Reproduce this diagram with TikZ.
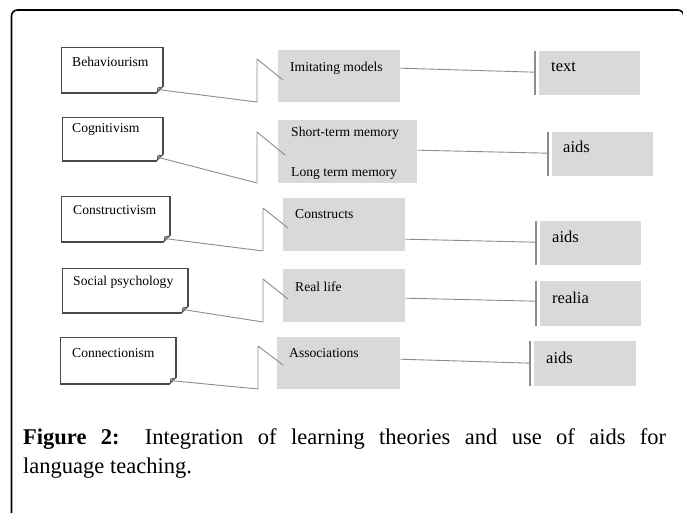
\documentclass[tikz,border=0pt]{standalone}
\usepackage{fontspec}
\setmainfont{Liberation Serif}
\usetikzlibrary{positioning}
\definecolor{boxgray}{HTML}{D9D9D9}
\definecolor{linegray}{HTML}{8C8C8C}
\definecolor{edgegray}{HTML}{4A4A4A}
\tikzset{
  theory/.style={draw=edgegray,line width=0.8pt,fill=white,inner sep=0pt,anchor=north west},
  topic/.style={fill=boxgray,inner sep=0pt,anchor=north west},
  aid/.style={fill=boxgray,inner sep=0pt,anchor=north west},
  lbl/.style={inner sep=0pt,anchor=base west,font=\fontsize{13.6}{16}\selectfont},
  aidlbl/.style={inner sep=0pt,anchor=base west,font=\fontsize{16.5}{20}\selectfont},
  callout/.style={draw=linegray,line width=0.9pt},
  link/.style={draw=linegray,line width=0.9pt},
  accentbar/.style={draw=linegray,line width=1.3pt},
}
\begin{document}
\begin{tikzpicture}[x=1pt,y=-1pt,line join=bevel]
\clip (0,0) rectangle (683,513);
\fill[white] (0,0) rectangle (683,513);
\draw[line width=1.6pt,rounded corners=6pt] (11.5,10) rectangle (683.8,560);
%%
\node (Behaviourism) at (61,47) [theory,minimum width=101pt,minimum height=45pt] {};
  \node (Cognitivism) at (62,117) [theory,minimum width=100pt,minimum height=43pt] {};
  \node (Constructivism) at (61,196) [theory,minimum width=108pt,minimum height=45pt] {};
  \node (Socialpsychology) at (62,268) [theory,minimum width=125pt,minimum height=44pt] {};
  \node (Connectionism) at (60,337) [theory,minimum width=115pt,minimum height=46pt] {};
  \node (Behaviourism-t) at (72,67) [lbl] {Behaviourism};
  \node (Cognitivism-t) at (72,133) [lbl] {Cognitivism};
  \node (Constructivism-t) at (73,215) [lbl] {Constructivism};
  \node (Socialpsychology-t) at (73,286) [lbl] {Social psychology};
  \node (Connectionism-t) at (72,357) [lbl] {Connectionism};
%
\foreach \n in {Behaviourism,Cognitivism,Constructivism,Socialpsychology,Connectionism}{
  \draw[edgegray,line width=1.5pt] (\n.north east) -- ([yshift=6pt]\n.south east);
  \draw[edgegray,line width=1.5pt] ([xshift=-6pt]\n.south east) -- (\n.south west);
  \fill[white] ([xshift=-6pt]\n.south east) -- ([xshift=-6pt,yshift=-1.5pt]\n.south east) -- ([xshift=1.5pt,yshift=-1.5pt]\n.south east) -- ([xshift=1.5pt,yshift=6pt]\n.south east) -- ([yshift=6pt]\n.south east) -- cycle;
  \filldraw[fill=black!40,draw=edgegray,line width=0.6pt] ([xshift=-6pt]\n.south east) -- ([yshift=6pt]\n.south east) -- ([xshift=-5pt,yshift=5pt]\n.south east) -- cycle;
}
%%
\node (Imitatingmodels) at (278,50) [topic,minimum width=122pt,minimum height=52pt] {};
  \node (Memory) at (278,120) [topic,minimum width=139pt,minimum height=63pt] {};
  \node (Constructs) at (283,198) [topic,minimum width=122pt,minimum height=53pt] {};
  \node (Reallife) at (283,269) [topic,minimum width=122pt,minimum height=53pt] {};
  \node (Associations) at (277,337) [topic,minimum width=123pt,minimum height=52pt] {};
  \node (Imitatingmodels-t) at (290,72) [lbl] {Imitating models};
  \node (Memory-s) at (291,137) [lbl] {Short-term memory};
  \node (Memory-l) at (291,177) [lbl] {Long term memory};
  \node (Constructs-t) at (295,219) [lbl] {Constructs};
  \node (Reallife-t) at (295,291) [lbl] {Real life};
  \node (Associations-t) at (289,357) [lbl] {Associations};
%%
\node (text) at (539,51) [aid,minimum width=101pt,minimum height=44pt] {};
  \node (aidsA) at (552,132) [aid,minimum width=101pt,minimum height=44pt] {};
  \node (aidsB) at (540,221) [aid,minimum width=101pt,minimum height=44pt] {};
  \node (realia) at (540,281) [aid,minimum width=101pt,minimum height=45pt] {};
  \node (aidsC) at (534,341) [aid,minimum width=102pt,minimum height=45pt] {};
  \node (text-t) at (551,72) [aidlbl] {text};
  \node (aidsA-t) at (563,153) [aidlbl] {aids};
  \node (aidsB-t) at (552,243) [aidlbl] {aids};
  \node (realia-t) at (552,303) [aidlbl] {realia};
  \node (aidsC-t) at (546,363) [aidlbl] {aids};
\foreach \n in {text,aidsA,aidsB,realia,aidsC}{
  \draw[accentbar] ([xshift=-4pt]\n.north west) -- ([xshift=-4pt]\n.south west);
}
%%
\coordinate (behA) at (257,102); \coordinate (behB) at (257,59); \coordinate (behC) at (283,80);
  \coordinate (cogA) at (257,183); \coordinate (cogB) at (257,132); \coordinate (cogC) at (285,155);
  \coordinate (conA) at (263,251); \coordinate (conB) at (263,208); \coordinate (conC) at (288,228);
  \coordinate (socA) at (263,322); \coordinate (socB) at (263,279); \coordinate (socC) at (288,299);
  \coordinate (cnxA) at (258,389); \coordinate (cnxB) at (258,346); \coordinate (cnxC) at (283,365);
  \draw [callout] ([xshift=-3pt,yshift=3pt]Behaviourism.south east) -- (behA) -- (behB) -- (behC);
  \draw [callout] ([xshift=-3pt,yshift=3pt]Cognitivism.south east) -- (cogA) -- (cogB) -- (cogC);
  \draw [callout] ([xshift=-3pt,yshift=3pt]Constructivism.south east) -- (conA) -- (conB) -- (conC);
  \draw [callout] ([xshift=-3pt,yshift=3pt]Socialpsychology.south east) -- (socA) -- (socB) -- (socC);
  \draw [callout] ([xshift=-3pt,yshift=3pt]Connectionism.south east) -- (cnxA) -- (cnxB) -- (cnxC);
%%
\draw [link] ([yshift=8pt]Imitatingmodels.east) -- ([xshift=-4pt,yshift=1pt]text.west);
  \draw [link] ([yshift=1.5pt]Memory.east) -- ([xshift=-4pt,yshift=1pt]aidsA.west);
  \draw [link] ([yshift=-14.5pt]Constructs.east) -- ([xshift=-4pt,yshift=1pt]aidsB.west);
  \draw [link] ([yshift=-2.5pt]Reallife.east) -- ([xshift=-4pt,yshift=2.5pt]realia.west);
  \draw [link] ([yshift=4pt]Associations.east) -- ([xshift=-4pt,yshift=0.5pt]aidsC.west);
%%
\node (caption) at (23,428) [anchor=north west,inner sep=0pt,text width=643pt,align=justify,font=\fontsize{22.5}{29}\selectfont] {\textbf{Figure 2:} Integration of learning theories and use of aids for\linebreak language teaching.};
%
\end{tikzpicture}
\end{document}
